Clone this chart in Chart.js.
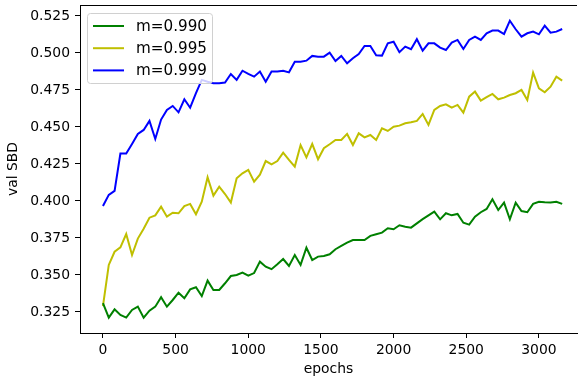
<!DOCTYPE html>
<html>
<head>
<meta charset="utf-8">
<script src="https://cdn.jsdelivr.net/npm/chart.js@4.4.1/dist/chart.umd.min.js"></script>
<style>
  html, body { margin: 0; padding: 0; background: #fff; }
  #wrap { width: 580px; height: 381px; }
</style>
</head>
<body>
<div id="wrap"><canvas id="chart"></canvas></div>
<script>
// epochs: one value every 40 epochs, 0 .. 3160
const epochs = Array.from({ length: 80 }, (_, i) => i * 40);

const m990 = [
  0.3309, 0.3212, 0.3268, 0.3230, 0.3212, 0.3264, 0.3286, 0.3212, 0.3259, 0.3286,
  0.3350, 0.3286, 0.3331, 0.3380, 0.3343, 0.3403, 0.3417, 0.3358, 0.3462, 0.3399,
  0.3399, 0.3444, 0.3493, 0.3500, 0.3516, 0.3495, 0.3513, 0.3590, 0.3556, 0.3539,
  0.3572, 0.3608, 0.3561, 0.3635, 0.3568, 0.3684, 0.3601, 0.3624, 0.3628, 0.3640,
  0.3674, 0.3696, 0.3718, 0.3736, 0.3736, 0.3736, 0.3764, 0.3775, 0.3786, 0.3816,
  0.3809, 0.3836, 0.3826, 0.3820, 0.3849, 0.3877, 0.3903, 0.3928, 0.3876, 0.3917,
  0.3903, 0.3912, 0.3853, 0.3840, 0.3894, 0.3924, 0.3946, 0.4011, 0.3939, 0.3989,
  0.3876, 0.3989, 0.3932, 0.3924, 0.3980, 0.3995, 0.3991, 0.3989, 0.3995, 0.3980
];

const m995 = [
  0.3290, 0.3568, 0.3657, 0.3687, 0.3777, 0.3635, 0.3746, 0.3813, 0.3887, 0.3903,
  0.3961, 0.3894, 0.3921, 0.3917, 0.3966, 0.3980, 0.3910, 0.3995, 0.4160, 0.4036,
  0.4097, 0.4047, 0.3989, 0.4153, 0.4187, 0.4210, 0.4130, 0.4178, 0.4270, 0.4248,
  0.4270, 0.4326, 0.4277, 0.4232, 0.4378, 0.4295, 0.4385, 0.4282, 0.4356, 0.4383,
  0.4412, 0.4412, 0.4453, 0.4378, 0.4457, 0.4430, 0.4446, 0.4412, 0.4491, 0.4473,
  0.4502, 0.4509, 0.4525, 0.4532, 0.4541, 0.4588, 0.4514, 0.4615, 0.4642, 0.4653,
  0.4630, 0.4649, 0.4597, 0.4705, 0.4739, 0.4678, 0.4701, 0.4723, 0.4687, 0.4698,
  0.4716, 0.4728, 0.4750, 0.4682, 0.4867, 0.4761, 0.4734, 0.4772, 0.4840, 0.4813
];

const m999 = [
  0.3966, 0.4041, 0.4068, 0.4320, 0.4320, 0.4385, 0.4453, 0.4480, 0.4541, 0.4419,
  0.4550, 0.4615, 0.4642, 0.4599, 0.4687, 0.4630, 0.4728, 0.4818, 0.4806, 0.4795,
  0.4795, 0.4800, 0.4858, 0.4818, 0.4880, 0.4858, 0.4840, 0.4874, 0.4806, 0.4874,
  0.4874, 0.4880, 0.4869, 0.4941, 0.4941, 0.4948, 0.4980, 0.4975, 0.4975, 0.5002,
  0.4946, 0.4980, 0.4930, 0.4964, 0.4993, 0.5047, 0.5047, 0.4984, 0.4982, 0.5065,
  0.5076, 0.5005, 0.5043, 0.5025, 0.5093, 0.5016, 0.5065, 0.5065, 0.5036, 0.5020,
  0.5070, 0.5088, 0.5027, 0.5088, 0.5110, 0.5088, 0.5133, 0.5151, 0.5151, 0.5128,
  0.5218, 0.5160, 0.5110, 0.5133, 0.5144, 0.5126, 0.5185, 0.5137, 0.5144, 0.5162
];

const seriesLabels = ['m=0.990', 'm=0.995', 'm=0.999'];
const seriesColors = ['#008000', '#bfbf00', '#0000ff'];
const xTicks = [0, 500, 1000, 1500, 2000, 2500, 3000];
const yTicks = [0.325, 0.350, 0.375, 0.400, 0.425, 0.450, 0.475, 0.500, 0.525];

const FONT = "'DejaVu Sans', sans-serif";
Chart.defaults.font.family = FONT;
Chart.defaults.font.size = 13.9;
Chart.defaults.color = '#000';

// top spine + matplotlib style boxed legend in upper left
const framePlugin = {
  id: 'frame',
  afterDatasetsDraw(chart) {
    const { ctx, chartArea: a } = chart;
    ctx.save();
    ctx.strokeStyle = '#000';
    ctx.lineWidth = 1;
    ctx.beginPath();
    ctx.moveTo(a.left, a.top + 0.5);
    ctx.lineTo(a.right, a.top + 0.5);
    ctx.stroke();

    const bx = 87.5, by = 13.5, bw = 125, bh = 70;
    ctx.fillStyle = 'rgba(255,255,255,0.8)';
    ctx.strokeStyle = '#d0d0d0';
    ctx.beginPath();
    ctx.roundRect(bx, by, bw, bh, 3);
    ctx.fill();
    ctx.stroke();

    ctx.font = '15.2px ' + FONT;
    ctx.textBaseline = 'middle';
    chart.data.datasets.forEach((ds, i) => {
      const y = 26 + i * 22.2;
      ctx.strokeStyle = ds.borderColor;
      ctx.lineWidth = 2;
      ctx.beginPath();
      ctx.moveTo(93, y);
      ctx.lineTo(124, y);
      ctx.stroke();
      ctx.fillStyle = '#000';
      ctx.fillText(ds.label, 136, y + 1);
    });
    ctx.restore();
  }
};

new Chart(document.getElementById('chart'), {
  type: 'line',
  data: {
    labels: epochs,
    datasets: [m990, m995, m999].map((vals, i) => ({
      label: seriesLabels[i],
      data: vals.map((v, j) => ({ x: epochs[j], y: v })),
      borderColor: seriesColors[i],
      backgroundColor: seriesColors[i],
      borderWidth: 2,
      pointRadius: 0,
      tension: 0,
      fill: false
    }))
  },
  options: {
    responsive: true,
    maintainAspectRatio: false,
    animation: false,
    layout: { padding: { left: 0, right: 3, top: 5, bottom: 0 } },
    plugins: {
      legend: { display: false },
      tooltip: { enabled: false }
    },
    scales: {
      x: {
        type: 'linear',
        min: -158,
        max: 3262,
        afterBuildTicks: axis => { axis.ticks = xTicks.map(v => ({ value: v })); },
        afterFit: axis => {
          axis.height = 48;
          axis.paddingLeft = 0;
          axis.paddingRight = 0;
        },
        ticks: { padding: 4, maxRotation: 0, autoSkip: false, callback: v => String(v) },
        grid: { drawOnChartArea: false, tickLength: 5, tickColor: '#000', tickWidth: 1 },
        border: { color: '#000', width: 1 },
        title: { display: true, text: 'epochs', padding: { top: 0, bottom: 3 } }
      },
      y: {
        min: 0.3108,
        max: 0.5324,
        afterBuildTicks: axis => { axis.ticks = yTicks.map(v => ({ value: v })); },
        afterFit: axis => {
          axis.width = 80;
          axis.paddingTop = 0;
          axis.paddingBottom = 0;
        },
        ticks: { padding: 5, callback: v => v.toFixed(3), autoSkip: false },
        grid: { drawOnChartArea: false, tickLength: 5, tickColor: '#000', tickWidth: 1 },
        border: { color: '#000', width: 1 },
        title: { display: true, text: 'val SBD', padding: { top: 5, bottom: 0 } }
      }
    }
  },
  plugins: [framePlugin]
});
</script>
</body>
</html>
